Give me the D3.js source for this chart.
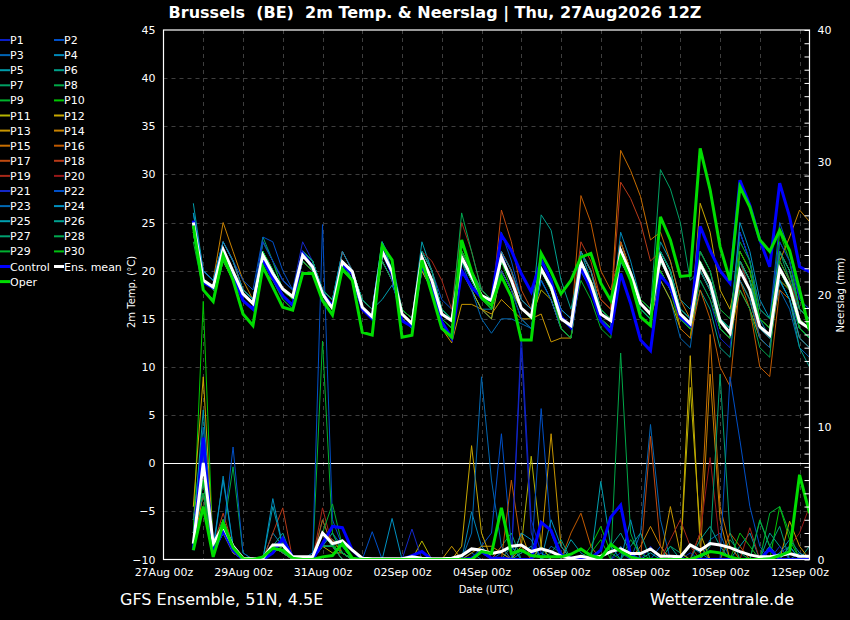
<!DOCTYPE html>
<html><head><meta charset="utf-8">
<script src="https://cdn.jsdelivr.net/npm/d3@7"></script>
<style>html,body{margin:0;background:#000;}svg{display:block;font-family:"DejaVu Sans",sans-serif;}</style>
</head><body><svg id="c" width="850" height="620"></svg>
<script>
// ---------- DATA ----------
const titleText = "Brussels  (BE)  2m Temp. & Neerslag | Thu, 27Aug2026 12Z";
const xTickHours = [0,48,96,144,192,240,288,336,384];
const xTickLabels = ["27Aug 00z","29Aug 00z","31Aug 00z","02Sep 00z","04Sep 00z","06Sep 00z","08Sep 00z","10Sep 00z","12Sep 00z"];
const tempTicks = [-10,-5,0,5,10,15,20,25,30,35,40,45];
const precipTicks = [0,10,20,30,40];
const firstStepHour = 18, stepHours = 6, domainHours = 390;

const T1=[25,19,18,22,20,18,17,22,20,18,17,21,20,17,16,21,19,16,15,22,20,15,14,21,19,16,15,22,20,17,16,22,19,16,15,21,19,15,14,22,19,15,14,23,20,16,15,20,18,15,14,19,17,13,12,21,18,14,13,19,17,13,12];
const T2=[25,20,19,23,21,18,17,23,21,19,18,22,21,18,17,22,20,17,16,23,20,16,15,22,20,17,16,21,19,17,16,24,21,17,16,21,19,16,15,20,18,15,14,23,20,17,16,21,19,15,14,22,20,16,15,24,21,16,15,25,22,17,16];
const T3=[24,19,18,22,19,17,16,21,19,17,16,22,20,17,16,20,19,16,15,21,19,15,14,22,20,16,15,20,18,16,15,20,18,15,14,19,17,14,13,21,19,16,15,21,19,16,15,19,17,13,12,20,18,14,13,21,19,15,14,18,16,12,11];
const T4=[26,20,19,23,21,18,17,22,20,18,17,22,21,18,17,21,20,16,15,23,21,16,15,21,19,15,14,20,18,16,16,22,20,17,16,20,18,15,14,22,20,16,15,24,21,17,16,22,20,16,15,21,19,15,14,24,21,15,13,22,20,15,14];
const T5=[27,20,19,22,20,18,17,23,21,19,18,21,20,17,16,21,20,17,16,22,20,16,15,23,20,16,15,22,20,18,17,21,19,16,15,19,17,14,13,20,18,15,14,21,19,16,15,23,21,17,16,20,18,14,13,20,18,13,12,21,19,15,14];
const T6=[25,19,18,22,20,17,16,21,19,18,17,22,20,18,17,20,19,16,15,22,20,16,15,20,18,15,14,21,19,17,17,20,18,16,15,21,19,16,15,22,19,15,14,21,19,16,15,22,20,15,14,18,16,12,11,21,18,14,13,19,17,12,10];
const T7=[24,18,17,21,19,17,16,23.5,21,18,17,21,20,18,17,22,20,17,16,21,19,15,14,22,20,16,15,22,20,18,17,20,18,16,15,20,18,15,14,21,19,16,15,22,20,17,16,30.5,28.5,25,19,20,18,14,13,21,19,14,13,22,19,16,15];
const T8=[25,19,18,22,20,18,17,22,20,18,17,21,20,18,16,21,20,16,15,22,20,16,15,21,19,16,15,21,19,17,16,21,19,16,15,20,18,15,14,21,18,15,14,23,20,16,15,21,19,16,15,20,18,15,14,21,19,14,13,23,21,16,15];
const T9=[23,18,17,21,19,17,16,23,21,18,17,22,20,17,16,21,19,16,15,22,20,15,14,21,19,15,14,21,19,17,16,22,20,16,15,20,18,15,14,19,17,14,13,22,20,17,16,21,19,15,14,19,17,14,13,19,17,13,12,20,18,15,14];
const T10=[24,18,17,22,20,17,16,21,19,17,16,22,21,18,17,21,20,17,16,23,20,16,15,21,19,16,15,23,20,17,16,21,18,15,14,20,18,14,13,21,19,15,14,22,20,16,15,20,18,14,13,21,19,15,14,22,20,15,14,24,21,16,15];
const T11=[25,19,18,21,19,17,16,20,19,18,17,21,20,17,16,20,19,16,15,21,19,15,14,20,18,14,13,20,18,16,15,20,18,16,15,18,17,14,13,21,19,15,14,22,20,16,15,19,17,14,13,20,18,14,13,19,17,13,12,19,18,14,13];
const T12=[24,19,18,22,20,18,17,22,20,18,17,21,20,18,17,20,19,16,15,22,20,16,15,22,20,16,15,22,20,17,16,21,19,16,15,20,18,15,14,21,19,16,15,23,20,16,15,20,18,15,14,27,24,18,16,21,19,15,14,20,18,15,14];
const T13=[25,19,18,22,20,18,17,21,20,18,17,22,20,17,16,21,20,16,15,21,19,15,14,20,18,14,12.5,16.5,16.5,16,15.5,17,16,15,15,15.5,12.6,13,13,20,18,15,14,22,20,16,15,20,18,15,14,21,19,14,13,18,16,13,12,20,18,14,13];
const T14=[25,20,19,25,22,19,17,22,20,18,17,22,21,18,17,21,20,17,16,22,20,16,15,22,20,16,15,21,19,17,16,22,20,16,15,21,19,15,14,22,20,16,15,21,19,16,15,22,20,15,14,20,18,14,13,21,19,15,14,21,23.5,26.3,25.1];
const T15=[25,19,18,23,21,18,17,22,20,18,17,22,20,18,17,21,20,17,16,22,20,16,15,22,20,16,15,22,20,17,17,22,20,17,16,21,19,16,15,22,20,17,16,32.5,30.4,27.7,23.2,24,21,17,15,20,18,14,13,22,20,15,14,21,19,15,14];
const T16=[25,19,18,23,21,18,17,22,20,18,17,21,20,17,16,21,19,16,15,22,20,15,14,21,19,15,14,21,19,17,16,22,20,16,15,20,18,15,14,27.8,25,20,18,22,20,16,15,21,19,14,13,18,15,10,8,19,16,10,9,18,17,13,12];
const T17=[25,19,18,22,20,18,17,22,20,18,17,22,21,18,17,21,20,17,16,22,20,16,15,21,19,16,15,22,20,17,16,26.3,23,18,16,21,19,16,15,22,20,16,15,23,20,17,16,22,20,16,15,21,19,14,13,20,18,14,13,21,19,15,14];
const T18=[24,19,18,22,20,18,17,22,20,18,17,22,20,17,16,22,20,17,16,21,19,15,14,21,19,15,14,22,20,18,17,22,20,16,15,21,19,16,15,23,21,17,16,29.2,27.5,25,21,22,20,16,15,20,18,14,13,20,18,14,13,22,20,16,15];
const T19=[25,19,18,22,20,17,16,22,20,18,17,22,20,17,16,22,20,16,15,22,20,16,15,22,21,19,16,25,22,18,17,21,19,16,15,20,18,15,14,21,19,16,15,22,20,16,15,21,19,15,14,20,18,14,13,21,18,14,13,20,18,15,14];
const T20=[25,19,18,22,20,18,17,22,20,18,17,21,20,17,16,21,20,17,16,22,20,16,15,21,19,16,15,21,20,17,16,22,20,16,15,20,18,15,14,21,19,16,15,22,20,17,16,21,19,15,14,22,20,16,15,20,18,13,12,21,19,16,15];
const T21=[25,20,19,22,20,18,17,23,21,19,18,23,21,18,17,21,20,17,16,22,20,16,15,22,20,16,15,21,19,17,16,20,18,15,14,21,19,16,15,20,18,15,14,22,20,16,15,21,19,16,15,20,18,14,13,24,21,16,15,23,21,17,16];
const T22=[25,20,19,23,21,19,18,23.5,23,20,18,22,21,18,17,21,20,17,16,21,19,15,14,21,19,16,15,21,19,17,16,21,19,16,15,19,17,14,13,20,18,15,14,21,19,16,15,20,18,15,14,21,19,15,14,20,18,14,13,19,17,14,13];
const T23=[25,19,18,22,20,18,17,22,20,18,17,22,20,17,16,21,19,16,15,22,20,16,15,21,19,16,15,21,18,15,13.5,15,15,14.5,14,20,18,15,14,21,19,16,15,22,20,16,15,21,19,15,14,20,18,15,14,19,17,13,12,20,18,14,13];
const T24=[26,20,19,23,21,18,17,22,20,18,17,22,21,18,17,22,20,17,16,23,20,16,15,22,20,16,15,22,20,17,16,22,20,17,16,21,19,16,15,22,20,16,15,21,19,16,15,22,20,15,14,21,19,15,14,25,22,17,15,22,20,16,15];
const T25=[25,19,18,22,20,18,17,22,20,18,17,21,20,17,16,21,20,17,16,17,18.5,16,15,21,19,15,14,21,19,17,16,21,19,16,15,20,18,15,14,20,18,15,14,21,19,16,15,22,20,16,15,21,19,14,13,21,19,15,14,19,17,13,12];
const T26=[25,19,18,22,20,18,17,22,20,18,17,22,21,18,17,21,20,16,15,22,20,16,15,21,19,16,15,21,19,17,16,21,19,16,15,25.8,24.2,19,16,21,19,15,14,22,20,17,16,22,20,16,15,22,20,15,14,20,18,14,13,20,18,14,13];
const T27=[25,19,18,22,20,17,16,22,20,18,17,22,20,18,16,21,19,16,15,22,20,16,15,22,20,16,15,22,20,18,17,21,19,16,15,20,18,15,14,21,19,16,15,22,20,17,16,22,20,16,15,20,18,14,13,21,19,15,14,20,18,14,13];
const T28=[24,18,17,22,20,17,16,22,20,18,17,22,21,18,17,21,20,17,16,21,19,15,14,21,19,16,15,26,22,18,17,21,19,16,15,20,18,15,14,21,19,16,15,21,19,16,15,21,19,15,14,21,19,15,14,18,16,12,11,22,20,16,15];
const T29=[24,18,17,21,19,17,16,21,19,18,17,22,20,17,16,21,20,16,15,22,20,15,14,21,19,15,14,21,19,17,16,21,19,16,15,20,18,15,14,21,19,16,15,22,20,16,15,21,19,15,14,22,20,16,15,23,21,16,15,21,19,15,14];
const T30=[25,19,18,22,20,17,16,22,20,18,17,21,20,17,16,20,19,16,15,22,20,16,15,21,19,15,14,22,20,17,16,21,19,16,15,20,18,14,13,21,19,15,14,22,20,17,16,20,18,15,14,21,19,14,13,22,20,15,14,20,18,14,13];
const tControl=[25.2,18.8,18.2,21.8,19.7,16.9,16.0,21.1,19.2,17.4,16.4,21.8,20.4,17.6,16.3,20.6,19.7,16.0,15.0,22.1,19.7,14.8,14.2,20.7,18.0,14.7,13.0,20.0,18.3,17.2,16.9,23.7,22.1,19.7,17.8,21.1,19.0,15.2,14.1,20.4,18.0,14.8,13.6,19.7,16.6,12.8,11.7,19.5,18.3,15.2,14.3,24.6,22.1,20.0,18.7,29.4,26.8,23.2,20.4,29.1,25.6,20.4,19.9];
const tMean=[25.0,19.0,18.3,22.2,19.9,17.6,16.6,21.6,19.7,18.1,17.3,21.6,20.4,17.6,16.1,20.9,19.9,16.2,15.2,22.0,19.9,15.5,14.5,21.4,19.0,15.5,14.8,21.4,19.4,17.4,16.9,21.4,19.0,16.1,15.2,20.2,18.3,15.0,14.3,20.9,18.7,15.5,14.8,22.1,19.7,16.6,15.5,21.4,19.0,15.5,14.5,20.7,18.7,14.8,13.5,20.0,18.0,14.2,13.3,20.2,18.3,14.7,14.0];
const tOper=[24.7,18.0,16.8,21.6,19.0,15.5,14.3,20.4,18.3,16.2,15.9,19.7,19.7,16.9,15.4,20.2,19.0,13.6,13.3,22.6,21.1,13.1,13.3,21.1,17.6,14.0,13.1,23.2,19.9,17.2,16.4,19.4,17.3,12.8,12.8,21.8,19.9,17.6,19.0,21.4,21.8,18.7,16.9,21.4,19.0,15.2,14.3,25.6,23.2,19.4,19.5,32.7,28.4,22.5,19.0,28.7,26.6,23.2,22.0,24.2,22.1,18.0,13.8];

const R1=[2,6,1,3,1,0,0,0,1,1.5,0,0,0,2,1,0.5,0,0,0,0,0,0,0,0,0,0,0,0,0,0.5,0,0,0,17,3,0.5,0,0,0,0,0,0,0,0.5,0,0,1,0,0,0,0.5,0,0,0,0,0,0,0,1,0,0,0,0];
const R2=[1,8,0.5,2,1,0,0,0,0.5,1,0,0,0,1,2,1,0,0,2.1,0,0,0,0,0,0,0,0,0,0,1,2,9.5,1,0,0,0.5,0,0,0,0,0,0,0,0,0,0,0,1,0,0,0,0,0,0,0,0,0,0,0,0.5,1,0,0];
const R3=[3,10,1,2,0.5,0,0,0,1,0.5,0,0,0,2,1.5,1,0,0,0,0,0,0,0,0,0,0,0,0,0.5,0,0,0.5,0,0,0,0,1,0.5,0,0,0,0,0,1,0,2,10.2,3,0,0,0,0,1.5,2,0,0,0,0,0,0,0,0.5,0];
const R4=[4,7,0.5,6.3,1,0,0,0,2,1,0,0,0.5,1,1,1.5,0,0,0,0,0,0,0,0,0,0,0,0,3.6,1,0,0,0,0,0,0,0,0,0,0,0,0,0,0,0,0,0,0,0,0,1,0.5,0,0,0,0,0,0,0,0.5,1.5,0.5,0];
const R5=[2,11.3,1,3,1,0,0,0,4,1,0,0,0,2,1,0.5,0,0,0,0,0,0,0,0,0,0,0,0,0,0,0,0,0,0.5,1,0,0,0,1.5,0.5,0,0,0,0,0,0,0.5,0,0,0,0,0,0,0,0,1,2,0,0,0,1,0,0];
const R6=[1,5,0.5,2,0.5,0,0,0,1,2,0,0,0,1,2,0.5,0,0,0,0,0,0,0,0,0,0,0,0,0,0,0,0,1,0,0,0,0,0,0,0,0,0,1,2,0.5,0,0,0,1,0,0,0,0,0,0,0,0,0,2,1,0,0,1];
const R7=[2,6,1,3,1,0,0,0,1,0.5,0,0,0,3,1,0,0,0,0,0,0,0,0,0,0,0,0,0,0,0,0,1,2,0,0,0,0,0,0,0,0,0,0,0,0,0,0,0,1,0.5,0,0,0,0,1.5,0.5,0,0,0,0,0,0,0];
const R8=[3,5,0.5,2,7,0.5,0,0,0.5,1,0,0,0,1,1,0.5,0,0,0,0,0,0,0,0,0,0,0,0,0,0,0,0,0,0,0,0,0,0,0,0,0,0,0,15.6,2,0,0,0,0,0,0,0,0,0,0,0,0,0,0,0,0,0,0];
const R9=[1,5,1,2.5,1,0,0,0,1,1,0,0,0,16.5,2,0.5,0,0,0,0,0,0,0,0,0,0,0,0,0,0,0,0,0,0,0,1,0,0,0,0,0,0,0,0,1.5,0.5,0,0,0,0,0,0,0,0,0,0,0,3,1,0,0,0,0];
const R10=[2,19.5,0.5,2,1,0,0,0,0.5,1,0,0,0,1,1,1,0,0,0,0,0,0,0,0,0,0,0,0,0,0,0,0,0,0,0,0,0,0,0,0,1,2.5,0.5,0,0,0,0,0,0,0,0,0,0,0,0,0,0,0,0,4,1.5,0,0];
const R11=[3,8,1,2,1,0,0,0,1,0.5,0,0,0,1,0.5,0.5,0,0,0,0,0,0,0,1.4,0,0,0,0,0,0,0,0,0,1,7.8,1,0,0,0,0,0,0,0,0,0,0,0,0,0,0,13,2,0,0,0,0,0,0,0,0,0,0,0];
const R12=[4,13.8,1,2,1,0,0,0,0.5,1,0,0,0,2,1,0.5,0,0,0,0,0,0,0,0,0,0,0,1,8.6,2,0,0,0,0,0,0,0,0,0,0,0,0,0,0,0,0,0,0,0,0,15.4,1,0,0,0,0,0,0,0,0,0,0,0];
const R13=[2,6,1,2,0.5,0,0,0,1,1,0,0,0,1,1,0.5,0,0,0,0,0,0,0,0,0,0,1,0,0.5,1,1,0.5,0,2,0,1,9.5,1,0,0,0,0,0,0,0,0,0,0,4,0.5,0,0,0,0,0,0,0,0,0,0,2.9,1,0];
const R14=[1,5,0.5,2,1,0,0,0,1,0.5,0,0,0,2,1,0,0,0,0,0,0,0,0,0,0,0,0,0,0,0,0,0,0,0,0,0,0,0,0,0,0,0,0,0,0,1,2.5,1,0,0,0,0,14,3,0,0,0,0,0,0,0,0,0];
const R15=[2,7,1,3,1,0,0,0,1,1,0,0,0,2,1.5,0.5,0,0,0,0,0,0,0,0,0,0,0,0,0,0,0,0,0,0,0,0,0,0,0,0,0,0,0,0,0,0,0,0,0,0,0,2,17,4,1,0,0,0,0,0,0,0,0];
const R16=[3,6,1,2,1,0,0,0,0.5,1,0,0,0,1,1,0,0,0,0,0,0,0,0,0,0,0,0,0,0,0,0,0,6,1,0,0,0,0,2,3.5,1,0,0,0,0,0,0,0,0,0,0,0,0,0,2,1,0,0,0,0,0,0,0];
const R17=[2,5,1,3,1,0,0,0,1,1,0,0,0,3,1,0.5,0,0,0,0,0,0,0,0,0,0,0,0,0,0,0,1,0,0,0,0,0,0,0,0,0,0,0,0,0,0,9.3,1,0,0,0,0,0,0,0,0,0,0,0,0,0,0,0];
const R18=[2,6,1,3.5,1,0,0,0,2,3.9,0,0,0,2,1,0.5,0,0,0,0,0,0,0,0,0,0,0,0,0,0,0,0,0,0,0,0,0,0,0,0,0,0,0,0,0,0,0,0,0,0,0,0,0,0,0,0,0,0,0,0,0,0,0];
const R19=[1,4,0.5,2,1,0,0,0,1,1,0,0,0,3.9,1,0.5,0,0,0,0,0,0,0,0,0,0,0,0,0,0,0,0,0,0,0,0,0,0,0,0,0,0,0,0,0,0,0,0,1.5,3,1,0,0,0,0,0,2.4,0,0,0,0,0,0];
const R20=[2,5,1,2,1,0,0,0,1,0.5,0,0,0,1,1,0,0,0,0,0,0,0,0,0,0,0,0,0,0,0,0,0,0,0,0,0,0,0,0,0,0,0,0,0,0,0,0,0,0,0,0,2,7.7,1,0,0,0,0,0,0,1,2,4];
const R21=[3,7,1,2,1,0,0,0,1,1,0,0,0,2,1,0.5,0,0,0,0,0,0,2.3,0,0,0,0,0,0,0,0,0,0,16,2,0,0,0,0,0,0,0,0,0,0,0,0,0,0,0,0,0,0,0,0,0,0,0,0,1,0,0,0];
const R22=[2,8,1,2,8.5,0.5,0,0,1,1,0,0,0,25.3,3,1,0,0,0,0,0,0,0,0,0,0,0,0,0,0,0,0,0,0,0,11.4,2,0,0,0,0,0,0,0,0,0,0,0,0,0,0,0,0,0,13.8,9,4,1,0,0,0,0,0];
const R23=[1,6,1,2,1,0,0,0,1,1,0,0,0,1,1,0.5,0,0,0,0,0,0,0,0,0,0,0,0,2,13.8,6,1,0,0,0,0,0,0,0,0,0,0,0,0,0,0,0,0,0,0,0,0,0,0,0,0,0,0,0,0,0,0,0];
const R24=[2,7,1,6,1,0,0,0,4.6,1,0,0,0,2,1,0.5,0,0,0,0,3.1,0,0,0,0,0,0,0,0,0,0,0,0,2,1.5,0,3,1,0,0,0,0,0,0,3,0,0,0,0,0,0,0,0,0,0,0,0,0,0,0,1,0,0];
const R25=[3,6,0.5,2,1,0,0,0,1,1,0,0,0,1,1,0,0,0,0,0,0,0,0,0,0,0,0,0,0,0,0,0,0,0,0,0,0,0,0,0,0,5.9,1,0,0,0,0,0,0,0,0,0,0,0,0,0,0,0,1,0,0,0,0];
const R26=[2,5,1,2,1,0,0,0,1,0.5,0,0,0,2,1,0.5,0,0,0,0,0,0,0,0,0,0,0,0,0,0,0,0,0,0,0,0,0,0,0,0,0,0,0,0,1,2,0,0,0,0,0,1.5,2.5,1,0,0,0,0,0,0,0,0,0];
const R27=[1,6,1,3,1,0,0,0,1,1,0,0,0,1,1,0.5,0,0,0,0,0,0,0,0,0,0,0,0,0,0,0,0,0,0,0,0,0.5,1.5,0,0,0,0,0,0,0,0,0,0,0,0,0,0,1,14,2,0,0,0,1,2.5,0,0,0];
const R28=[2,6,1,2,1,0,0,0,0.5,1,0,0,0,1,1,0,0,0,0,0,0,0,0,0,0,0,0,0,0,0,0,0,0,0,0,0,0,0,0,0,0,0,0,0,0,0,0,0,0,0,0,0,0,0,0,0,0,2.9,1,0,0,0,0];
const R29=[3,5,1,2,1,0,0,0,1,1,0,0,0,2,4.2,1,0,0,0,0,0,0,0,0,0,0,0,0,0,0,0,0,0,0,0,0,0,0,0,0,0,0,0,0,0,0,0,0,0,0,0,0,0,0,0,0,0,0,3.5,4,2,0,0];
const R30=[2,6,1,3,1,0,0,0,1,1,0,0,0,2,1,0.5,0,0,0,0,0,0,0,0,0,0,0,0,0,0,0,0,0,0,0,0,0,0,0,0,0.5,1.5,0,0,0,0,0,0,0,0,0,0,0,0,0,2,1,0,0,0,0,0,0];
const rControl=[0.7,9.2,0.5,2.2,0.7,0,0,0,0.5,1.6,0.2,0,0,1.2,2.5,2.4,0.7,0,0,0,0,0,0.3,0.6,0,0,0,0,0.1,0.6,0.1,0.1,0,0,0,2.8,2.2,0.35,0.1,0.1,0.1,0.7,3.2,4.1,0.3,0,0,0,0,0,0,0,0,0,0,0,0,0,0.8,0,0,0,0];
const rMean=[1.2,7.3,1.2,2.5,1.0,0.1,0.05,0.1,1.1,1.1,0.2,0.2,0.2,2.0,1.2,1.4,0.7,0.1,0.05,0.05,0.05,0.05,0.2,0.1,0.05,0.05,0.1,0.3,0.8,0.7,0.45,0.6,1.0,1.1,0.6,0.8,0.6,0.25,0.1,0.25,0.1,0.25,0.6,0.8,0.45,0.45,0.8,0.25,0.25,0.2,1.1,0.7,1.2,1.1,0.9,0.6,0.35,0.2,0.2,0.3,0.45,0.25,0.25];
const rOper=[0.7,4.0,0.2,2.7,0.9,0.05,0,0.2,0.85,0.7,0.1,0,0,0.2,0.3,1.2,0.1,0,0,0,0,0,0,0,0,0,0,0,0,0.6,0.45,3.9,0.45,0.7,0.3,0.2,0.2,0.2,0.4,0.8,0.3,0.1,1.15,0.6,0.2,0,0,0,0,0,0,0.3,0.6,0.5,0.2,0,0,0,0.05,0.3,0.6,6.4,3.5];

const memberColors=["#0a1ec8","#0050c8","#0064b4","#0088b8","#009caa","#00a08a","#00a064","#00a848","#00b42c","#00c800",
"#b4b400","#c8a800","#c89600","#c88200","#c86e00","#c05a00","#c04a10","#b83a18","#a82818","#981818",
"#1428c8","#0050c8","#0068b4","#0090c0","#00a0b0","#00a090","#00a070","#00a850","#00b030","#00c010"];
const memberTemps=[T1,T2,T3,T4,T5,T6,T7,T8,T9,T10,T11,T12,T13,T14,T15,T16,T17,T18,T19,T20,T21,T22,T23,T24,T25,T26,T27,T28,T29,T30];
const memberPrecip=[R1,R2,R3,R4,R5,R6,R7,R8,R9,R10,R11,R12,R13,R14,R15,R16,R17,R18,R19,R20,R21,R22,R23,R24,R25,R26,R27,R28,R29,R30];

// ---------- CHART ----------
const svg=d3.select("#c");
const L=163.5,R=809.5,T=30,B=559.5;
const x=d3.scaleLinear().domain([0,domainHours]).range([L,R]);
const yT=d3.scaleLinear().domain([-10,45]).range([B,T]);
const yP=d3.scaleLinear().domain([0,40]).range([B,T]);
const hourAt=i=>firstStepHour+stepHours*i;

svg.append("rect").attr("width",850).attr("height",620).attr("fill","#000");
svg.append("defs").append("clipPath").attr("id","clip").append("rect")
  .attr("x",L).attr("y",T).attr("width",R-L).attr("height",B-T);

// grid
const grid=svg.append("g").attr("stroke","#3e3e3e").attr("stroke-dasharray","4,4").attr("stroke-width",1);
grid.selectAll("line.v").data(d3.range(24,domainHours,24)).join("line")
  .attr("x1",d=>Math.round(x(d))+0.5).attr("x2",d=>Math.round(x(d))+0.5).attr("y1",T).attr("y2",B);
grid.selectAll("line.h").data(tempTicks.filter(d=>d!==0&&d!==-10&&d!==45)).join("line")
  .attr("x1",L).attr("x2",R).attr("y1",d=>Math.round(yT(d))+0.5).attr("y2",d=>Math.round(yT(d))+0.5);
svg.append("line").attr("x1",L).attr("x2",R).attr("y1",Math.round(yT(0))+0.5).attr("y2",Math.round(yT(0))+0.5)
  .attr("stroke","#fff").attr("stroke-width",1.2);

// lines
const plot=svg.append("g").attr("clip-path","url(#clip)");
const lt=d3.line().x((d,i)=>x(hourAt(i))).y(d=>yT(d));
const lp=d3.line().x((d,i)=>x(hourAt(i))).y(d=>yP(d));
memberTemps.forEach((s,k)=>{
  plot.append("path").attr("d",lt(s)).attr("fill","none").attr("stroke",memberColors[k]).attr("stroke-width",1);
  plot.append("path").attr("d",lp(memberPrecip[k])).attr("fill","none").attr("stroke",memberColors[k]).attr("stroke-width",1);
});
const mains=[[tControl,rControl,"#0000ff"],[tMean,rMean,"#ffffff"],[tOper,rOper,"#00dd00"]];
mains.forEach(([t,r,c])=>{
  plot.append("path").attr("d",lp(r)).attr("fill","none").attr("stroke",c).attr("stroke-width",3).attr("stroke-linejoin","miter");
  plot.append("path").attr("d",lt(t)).attr("fill","none").attr("stroke",c).attr("stroke-width",3).attr("stroke-linejoin","miter");
});

// frame
svg.append("rect").attr("x",L).attr("y",T).attr("width",R-L).attr("height",B-T)
  .attr("fill","none").attr("stroke","#fff").attr("stroke-width",1.2);

// axes
const axL=svg.append("g").attr("transform",`translate(${L},0)`)
  .call(d3.axisLeft(yT).tickValues(tempTicks).tickSize(0).tickPadding(8).tickFormat(d3.format("d")));
const axR=svg.append("g").attr("transform",`translate(${R},0)`)
  .call(d3.axisRight(yP).tickValues(d3.range(0,41,1)).tickSize(-5).tickPadding(8)
    .tickFormat(d=>precipTicks.includes(d)?String(d):""));
const axB=svg.append("g").attr("transform",`translate(0,${B})`)
  .call(d3.axisBottom(x).tickValues(xTickHours).tickSize(0).tickPadding(9)
    .tickFormat((d,i)=>xTickLabels[i]));
[axL,axR,axB].forEach(a=>{
  a.select(".domain").remove();
  a.selectAll("text").attr("fill","#fff").attr("font-size",11).attr("font-family","DejaVu Sans");
  a.selectAll("line").attr("stroke","#fff");
});

// titles
svg.append("text").attr("x",435).attr("y",18).attr("text-anchor","middle").attr("fill","#fff")
  .attr("xml:space","preserve").style("white-space","pre")
  .attr("font-size",16).attr("font-weight","bold").text(titleText);
svg.append("text").attr("transform","translate(135,292) rotate(-90)").attr("text-anchor","middle")
  .attr("fill","#fff").attr("font-size",10).text("2m Temp. (°C)");
svg.append("text").attr("transform","translate(844,295) rotate(-90)").attr("text-anchor","middle")
  .attr("fill","#fff").attr("font-size",10).text("Neerslag (mm)");
svg.append("text").attr("x",486).attr("y",593).attr("text-anchor","middle").attr("fill","#fff")
  .attr("font-size",10).text("Date (UTC)");
svg.append("text").attr("x",120).attr("y",605).attr("fill","#fff").attr("font-size",16).text("GFS Ensemble, 51N, 4.5E");
svg.append("text").attr("x",794).attr("y",605).attr("text-anchor","end").attr("fill","#fff").attr("font-size",16).text("Wetterzentrale.de");

// legend
const legendItems=memberColors.map((c,k)=>({name:"P"+(k+1),color:c,w:1}))
  .concat([{name:"Control",color:"#0000ff",w:3},{name:"Ens. mean",color:"#ffffff",w:3},{name:"Oper",color:"#00dd00",w:3}]);
const lg=svg.append("g");
legendItems.forEach((d,k)=>{
  const col=k%2, row=Math.floor(k/2);
  const y0=40+row*15.1, x0=col?54:0;
  lg.append("line").attr("x1",x0).attr("x2",x0+10).attr("y1",y0).attr("y2",y0)
    .attr("stroke",d.color).attr("stroke-width",d.w===3?3:2);
  lg.append("text").attr("x",x0+10).attr("y",y0+4).attr("fill","#fff").attr("font-size",11).text(d.name);
});
</script></body></html>
